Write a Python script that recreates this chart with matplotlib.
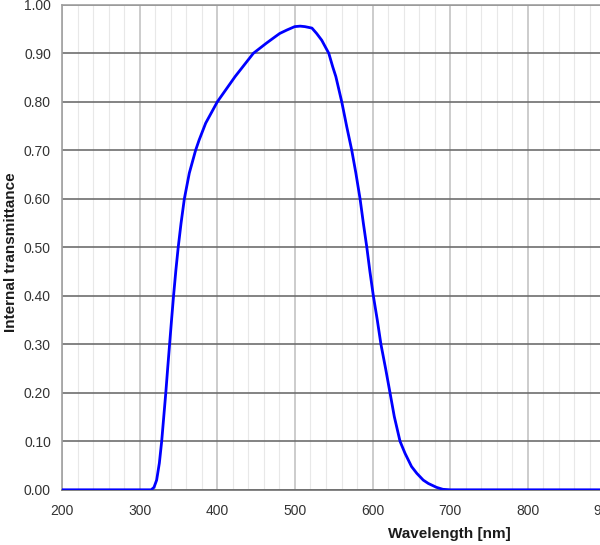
import matplotlib

matplotlib.use("Agg")
import matplotlib.pyplot as plt  # noqa: E402
from matplotlib.ticker import MultipleLocator, FormatStrFormatter  # noqa: E402

plt.rcParams["font.family"] = ["Liberation Sans", "DejaVu Sans"]

# internal transmittance curve
wavelength = [200, 300, 314.8, 318.4, 321.8, 325.3, 328.3, 331.0, 333.6, 336.0,
              338.5, 341.0, 343.6, 346.6, 349.6, 353.2, 357.5, 363.9, 372.0,
              376.5, 385.0, 400.0, 422.9, 432.7, 446.4, 463.3, 474.4, 480.5,
              489.6, 499.7, 506.7, 512.8, 521.9, 527.9, 534.5, 543.6, 548.7,
              552.7, 560.3, 566.7, 573.2, 578.5, 583.9, 588.2, 592.6, 596.6,
              601.0, 606.1, 610.8, 616.8, 622.5, 628.0, 635.4, 641.9, 650.2,
              657.0, 665.3, 671.9, 682.5, 690.6, 700, 800, 900]
transmittance = [0, 0, 0, 0.005, 0.02, 0.055, 0.10, 0.151, 0.20, 0.25, 0.30,
                 0.35, 0.40, 0.453, 0.50, 0.549, 0.60, 0.653, 0.70, 0.721,
                 0.756, 0.80, 0.852, 0.872, 0.90, 0.921, 0.934, 0.941, 0.948,
                 0.955, 0.956, 0.955, 0.952, 0.941, 0.927, 0.90, 0.872, 0.852,
                 0.80, 0.749, 0.70, 0.653, 0.60, 0.549, 0.50, 0.45, 0.40, 0.35,
                 0.30, 0.25, 0.20, 0.151, 0.10, 0.075, 0.048, 0.034, 0.02,
                 0.013, 0.005, 0.001, 0, 0, 0]

INK = "#333333"

fig = plt.figure(figsize=(6.0, 5.45), dpi=100)
# axes run past the right edge, as in the reference crop
ax = fig.add_axes([62.1 / 600, 1 - 489.8 / 545, 543.3 / 600, 485 / 545])

ax.plot(wavelength, transmittance, color="#0000ff", linewidth=2.0, zorder=3)

ax.set_xlim(200, 900)
ax.set_ylim(0, 1)
ax.xaxis.set_major_locator(MultipleLocator(100))
ax.xaxis.set_minor_locator(MultipleLocator(20))
ax.yaxis.set_major_locator(MultipleLocator(0.1))
ax.yaxis.set_major_formatter(FormatStrFormatter("%.2f"))

ax.grid(axis="y", which="major", color="#6e6e6e", linewidth=1.2)
ax.grid(axis="x", which="major", color="#c4c4c4", linewidth=1.2)
ax.grid(axis="x", which="minor", color="#e8e8e8", linewidth=0.8)
ax.set_axisbelow(True)

ax.tick_params(which="both", length=0, labelsize=10, labelcolor=INK)
ax.tick_params(axis="x", pad=10)
ax.tick_params(axis="y", pad=8)

for side in ("top", "left", "right"):
    ax.spines[side].set_color("#a0a0a0")
    ax.spines[side].set_linewidth(1.2)
ax.spines["bottom"].set_color("#6e6e6e")
ax.spines["bottom"].set_linewidth(1.2)

ax.set_xlabel("Wavelength [nm]", fontsize=11, fontweight="bold", color="#1b1b1b")
ax.xaxis.set_label_coords(0.712, -0.077)
ax.set_ylabel("Internal transmittance", fontsize=11, fontweight="bold",
              color="#1b1b1b")
ax.yaxis.set_label_coords(-0.082, 0.49)

fig.savefig("out.png", dpi=100)
